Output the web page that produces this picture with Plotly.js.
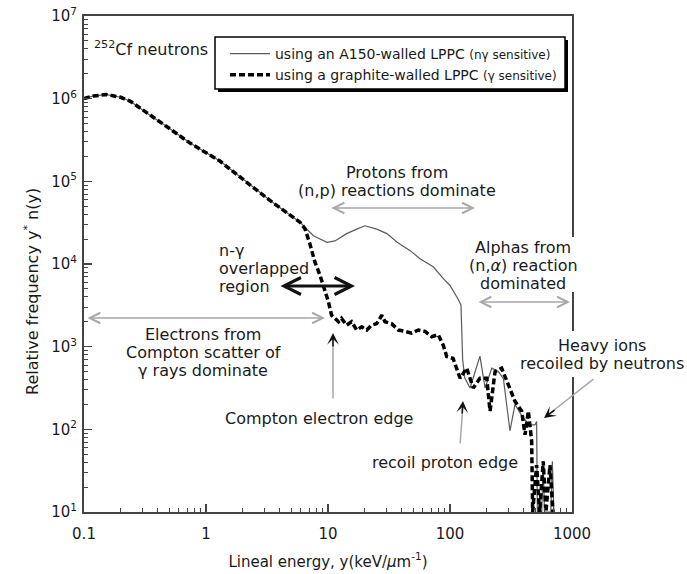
<!DOCTYPE html>
<html><head><meta charset="utf-8">
<script src="https://cdn.plot.ly/plotly-3.0.1.min.js"></script>
<style>body{margin:0;background:#fff}</style>
</head><body>
<div id="chart" style="width:687px;height:574px"></div>
<script>
// ---- data ----
const seriesNames = [
  'using an A150-walled LPPC <span style="font-size:12px">(nγ sensitive)</span>',
  'using a graphite-walled LPPC <span style="font-size:12px">(γ sensitive)</span>'
];
const a150X = [0.1, 0.12, 0.153, 0.2, 0.24, 0.326, 0.476, 0.74, 1.30, 2.16, 3.55, 4.04, 5.9, 7.6, 9.8, 11.4, 14.2, 17.2, 20.1, 25.1, 30.4, 36.9, 47.2, 56.8, 73.2, 88.6, 100, 116, 123, 127, 132, 146, 160, 176, 194, 220, 249, 274, 310, 341, 398, 452, 498, 513, 520, 565, 580, 595, 670, 690, 710];
const a150Y = [1.0e6, 1.08e6, 1.12e6, 1.04e6, 9.3e5, 6.7e5, 4.6e5, 2.9e5, 1.76e5, 9.7e4, 5.5e4, 4.8e4, 3.2e4, 2.2e4, 1.83e4, 1.9e4, 2.33e4, 2.64e4, 2.9e4, 2.64e4, 2.33e4, 1.83e4, 1.45e4, 1.16e4, 9.2e3, 6.6e3, 5.5e3, 3.8e3, 3.2e3, 700, 420, 316, 500, 767, 316, 550, 500, 410, 96, 200, 137, 113, 113, 124, 10, 10, 41, 10, 10, 41, 10];
const graphiteX = [0.1, 0.12, 0.153, 0.2, 0.24, 0.326, 0.476, 0.74, 1.30, 2.16, 3.55, 5.9, 6.48, 7.1, 7.8, 8.6, 9.16, 10.07, 10.7, 11.4, 12.2, 12.9, 14.2, 15.6, 17.2, 18.9, 20.8, 22.8, 25.1, 27.6, 29.3, 33.2, 37.7, 42.7, 48.5, 55.0, 62.4, 70.8, 80, 88, 94, 106, 121, 137, 155, 176, 200, 213, 234, 265, 301, 341, 387, 412, 439, 467, 476, 513, 543, 581, 611, 660, 698];
const graphiteY = [1.0e6, 1.08e6, 1.12e6, 1.04e6, 9.3e5, 6.7e5, 4.6e5, 2.9e5, 1.76e5, 9.7e4, 5.5e4, 3.2e4, 2.66e4, 1.76e4, 1.06e4, 7.3e3, 5.5e3, 3.5e3, 2.4e3, 2.2e3, 2.0e3, 2.2e3, 1.82e3, 2.0e3, 1.59e3, 1.74e3, 1.59e3, 1.82e3, 1.9e3, 2.4e3, 2.0e3, 1.9e3, 1.59e3, 1.53e3, 1.46e3, 1.59e3, 1.53e3, 1.32e3, 1.4e3, 1.04e3, 760, 720, 415, 550, 316, 415, 415, 166, 500, 550, 345, 218, 166, 86, 166, 72, 10, 37, 10, 41, 10, 37, 10];
const xTickVals = [0.1, 1, 10, 100, 1000];
const xTickText = ['0.1', '1', '10', '100', '1000'];
const yTickVals = [1e1, 1e2, 1e3, 1e4, 1e5, 1e6, 1e7];
const yTickText = ['10<sup>1</sup>', '10<sup>2</sup>', '10<sup>3</sup>', '10<sup>4</sup>', '10<sup>5</sup>', '10<sup>6</sup>', '10<sup>7</sup>'];

// ---- layout helpers (pixel -> paper) ----
const W = 687, H = 574, M = {l: 84, r: 115, t: 16, b: 62};
const PW = W - M.l - M.r, PH = H - M.t - M.b;
const px = x => (x - M.l) / PW;
const py = y => (H - M.b - y) / PH;
const F = 'DejaVu Sans, Arial, sans-serif';
const TXT = '#1a1a1a', GRAY = '#a8a8a8';

function lines(arr, cx, y0, step, anchor) {
  return arr.map((t, i) => ({
    text: t, xref: 'paper', yref: 'paper', x: px(cx), y: py(y0 + i * step),
    xanchor: anchor || 'center', yanchor: 'middle', showarrow: false,
    font: {family: F, size: 16, color: TXT}
  }));
}
function arrow(x0, y0, x1, y1, color, width, both, head, size) {
  return {
    text: '', xref: 'paper', yref: 'paper', x: px(x1), y: py(y1),
    axref: 'pixel', ayref: 'pixel', ax: x0 - x1, ay: y0 - y1,
    showarrow: true, arrowcolor: color, arrowwidth: width,
    arrowhead: head, startarrowhead: head, arrowsize: size || 1, startarrowsize: size || 1,
    arrowside: both ? 'end+start' : 'end', standoff: 0, startstandoff: 0
  };
}

const annotations = [].concat(
  lines(['<sup>252</sup>Cf neutrons'], 92, 48, 0, 'left'),
  lines(['Protons from', '(n,p) reactions dominate'], 397, 172, 18.3),
  lines(['Electrons from', 'Compton scatter of', 'γ rays dominate'], 203, 334, 18.3),
  lines(['n-γ', 'overlapped', 'region'], 217, 250, 18, 'left'),
  lines(['Compton electron edge'], 223, 418, 0, 'left'),
  lines(['Alphas from', '(n,<i>α</i>) reaction', 'dominated'], 523, 247, 18),
  lines(['Heavy ions', 'recoiled by neutrons'], 602, 345, 18.3),
  lines(['recoil proton edge'], 445, 462, 0),
  [{
    text: 'Relative frequency y<sup>*</sup> n(y)', xref: 'paper', yref: 'paper',
    x: px(31), y: py(292), xanchor: 'center', yanchor: 'middle', textangle: -90,
    showarrow: false, font: {family: F, size: 16, color: TXT}
  }],
  [
    arrow(330, 208, 475, 208, GRAY, 1.3, true, 5, 1.6),
    arrow(86, 318, 325, 318, GRAY, 1.3, true, 5, 1.6),
    arrow(477, 302, 570, 302, GRAY, 1.3, true, 5, 1.6),
    arrow(279, 286, 355, 286, '#111', 3, true, 5, 1.1),
    arrow(333, 400, 333, 336, GRAY, 1.5, false, 0),
    arrow(333, 348, 333, 333, '#111', 1.5, false, 3, 1.3),
    arrow(460, 445, 463, 405, GRAY, 1.5, false, 0),
    arrow(462, 415, 463, 401, '#111', 1.5, false, 3, 1.3),
    arrow(595, 378, 549, 414, GRAY, 1.5, false, 0),
    arrow(556, 409, 544, 418, '#111', 1.5, false, 3, 1.3)
  ]
);

const shapes = [
  // legend frame with drop shadow
  {type: 'rect', xref: 'paper', yref: 'paper', x0: px(218), x1: px(568), y0: py(40), y1: py(92), fillcolor: '#000', line: {width: 0}, layer: 'above'},
  {type: 'rect', xref: 'paper', yref: 'paper', x0: px(215), x1: px(565), y0: py(37), y1: py(89), fillcolor: '#fff', line: {color: '#000', width: 1.5}, layer: 'above'},
  // gaps in right frame behind text
  {type: 'rect', xref: 'paper', yref: 'paper', x0: px(566), x1: px(578), y0: py(237), y1: py(292), fillcolor: '#fff', line: {width: 0}, layer: 'above'},
  {type: 'rect', xref: 'paper', yref: 'paper', x0: px(566), x1: px(578), y0: py(331), y1: py(377), fillcolor: '#fff', line: {width: 0}, layer: 'above'}
];

const traces = [
  {x: a150X, y: a150Y, name: seriesNames[0], type: 'scatter', mode: 'lines',
   line: {color: '#5a5a5a', width: 1.2}},
  {x: graphiteX, y: graphiteY, name: seriesNames[1], type: 'scatter', mode: 'lines',
   line: {color: '#000', width: 3.5, dash: '6px,3px'}}
];

const axisCommon = {
  type: 'log', showline: true, linecolor: '#444', linewidth: 2, mirror: true,
  ticks: 'inside', ticklen: 8, tickwidth: 1.5, tickcolor: '#444',
  showgrid: false, zeroline: false, tickmode: 'array',
  tickfont: {family: F, size: 15, color: TXT},
  minor: {ticks: 'inside', ticklen: 4, tickwidth: 1, tickcolor: '#444', dtick: 'D1', showgrid: false}
};

const layout = {
  width: W, height: H, margin: M,
  paper_bgcolor: '#fff', plot_bgcolor: '#fff',
  font: {family: F, color: TXT},
  showlegend: true,
  legend: {x: px(225), y: py(38), xanchor: 'left', yanchor: 'top', itemwidth: 40,
           bgcolor: 'rgba(0,0,0,0)', borderwidth: 0,
           font: {family: F, size: 14, color: TXT}, tracegroupgap: 0},
  xaxis: Object.assign({}, axisCommon, {
    range: [-1, 3], tickvals: xTickVals, ticktext: xTickText, ticklabelstandoff: 7,
    title: {text: 'Lineal energy, y(keV/<i>μ</i>m<sup>-1</sup>)', font: {family: F, size: 15, color: TXT}, standoff: 14}
  }),
  yaxis: Object.assign({}, axisCommon, {
    range: [1, 7], tickvals: yTickVals, ticktext: yTickText, ticklabelstandoff: 2
  }),
  annotations: annotations,
  shapes: shapes
};

Plotly.newPlot('chart', traces, layout, {displayModeBar: false, staticPlot: true});
</script>
</body></html>
